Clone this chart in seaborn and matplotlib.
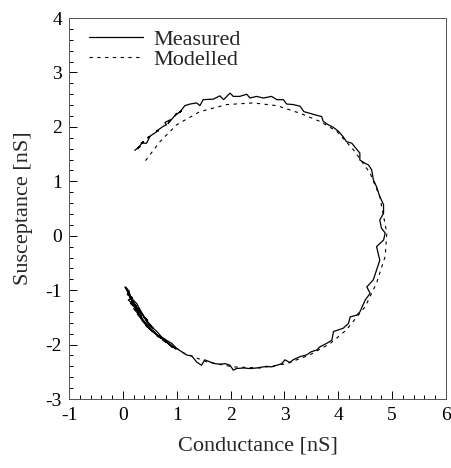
import numpy as np
import pandas as pd
import seaborn as sns
import matplotlib.pyplot as plt
from matplotlib.ticker import MultipleLocator

# measured admittance trace (conductance, susceptance in nS)
meas_g = [0.22, 0.32, 0.27, 0.38, 0.34, 0.44, 0.50, 0.46, 0.58, 0.66, 0.62, 0.75, 0.81, 0.78,
          0.88, 0.84, 0.94, 1.00, 0.96, 1.09, 1.05, 1.15, 1.25, 1.37, 1.43, 1.49, 1.68,
          1.80, 1.87, 1.99, 2.05, 2.17, 2.30, 2.36, 2.48, 2.61, 2.76, 2.86, 2.98, 3.04,
          3.16, 3.29, 3.36, 3.47, 3.57, 3.69, 3.72, 3.81, 3.91, 4.00, 4.09, 4.15, 4.25,
          4.34, 4.40, 4.40, 4.50, 4.56, 4.62, 4.65, 4.71, 4.77, 4.84, 4.84, 4.77, 4.80,
          4.87, 4.84, 4.71, 4.77, 4.71, 4.65, 4.53, 4.59, 4.50, 4.40, 4.34, 4.22, 4.19,
          4.09, 4.00, 3.91, 3.88, 3.78, 3.66, 3.60, 3.50, 3.41, 3.29, 3.16, 3.10, 3.01,
          2.95, 2.86, 2.76, 2.67, 2.61, 2.48, 2.36, 2.24, 2.11, 2.05, 1.99, 1.90, 1.80,
          1.71, 1.62, 1.52, 1.46, 1.37, 1.28, 1.18, 1.09, 1.00, 0.91, 0.81, 0.72, 0.63,
          0.53, 0.44, 0.38, 0.32, 0.26, 0.19, 0.13, 0.07, 0.04, 0.12, 0.08, 0.18, 0.10,
          0.22, 0.14, 0.28, 0.20, 0.34, 0.27, 0.42, 0.36, 0.50, 0.45, 0.60, 0.55, 0.70,
          0.66, 0.80, 0.74, 0.92, 0.85, 0.98, 0.70, 0.60, 0.48, 0.40, 0.30, 0.24, 0.16,
          0.10, 0.06, 0.14, 0.08, 0.20, 0.12, 0.25, 0.17, 0.30, 0.22, 0.36, 0.28, 0.46,
          0.38, 0.56, 0.48]
meas_b = [1.57, 1.64, 1.60, 1.73, 1.70, 1.70, 1.82, 1.80, 1.88, 1.93, 1.92, 2.01, 2.04, 2.08,
          2.13, 2.06, 2.18, 2.25, 2.20, 2.30, 2.26, 2.39, 2.42, 2.44, 2.39, 2.50, 2.51,
          2.57, 2.50, 2.62, 2.56, 2.56, 2.60, 2.53, 2.56, 2.53, 2.56, 2.50, 2.50, 2.42,
          2.41, 2.38, 2.28, 2.25, 2.22, 2.19, 2.10, 2.04, 1.99, 1.92, 1.82, 1.73, 1.70,
          1.59, 1.52, 1.39, 1.33, 1.30, 1.21, 1.03, 0.90, 0.72, 0.57, 0.41, 0.29, 0.14,
          0.05, -0.08, -0.20, -0.45, -0.63, -0.81, -0.94, -1.06, -1.18, -1.40, -1.46, -1.49,
          -1.61, -1.70, -1.73, -1.76, -1.92, -1.98, -2.04, -2.10, -2.13, -2.19, -2.22,
          -2.28, -2.33, -2.28, -2.35, -2.38, -2.41, -2.40, -2.41, -2.43, -2.44, -2.43,
          -2.44, -2.47, -2.38, -2.35, -2.36, -2.35, -2.32, -2.28, -2.38, -2.32, -2.21,
          -2.19, -2.13, -2.07, -1.98, -1.92, -1.86, -1.76, -1.67, -1.58, -1.46, -1.36,
          -1.25, -1.18, -1.09, -1.00, -0.94, -1.02, -1.08, -1.14, -1.18, -1.28, -1.24,
          -1.38, -1.34, -1.50, -1.44, -1.62, -1.56, -1.72, -1.66, -1.80, -1.74, -1.88,
          -1.84, -1.96, -1.90, -2.05, -1.98, -2.08, -1.86, -1.80, -1.66, -1.58, -1.42,
          -1.34, -1.16, -1.04, -0.96, -1.10, -1.00, -1.22, -1.12, -1.30, -1.20, -1.38,
          -1.26, -1.46, -1.36, -1.56, -1.48, -1.70, -1.62]

# modelled arc
model_g = [0.42, 0.69, 1.00, 1.43, 1.93, 2.42, 2.86, 3.29, 3.66, 3.97, 4.28, 4.59, 4.77,
           4.90, 4.87, 4.71, 4.50, 4.15, 3.85, 3.47, 3.04, 2.55, 2.05, 1.56, 1.12, 0.69,
           0.45, 0.28]
model_b = [1.38, 1.73, 2.04, 2.28, 2.41, 2.44, 2.39, 2.25, 2.10, 1.92, 1.58, 1.15, 0.72,
           0.05, -0.38, -0.87, -1.30, -1.73, -1.98, -2.19, -2.35, -2.43, -2.41, -2.32,
           -2.15, -1.89, -1.68, -1.45]

sns.set_style("ticks")
plt.rcParams["font.family"] = ["Liberation Serif", "DejaVu Serif"]
plt.rcParams["axes.unicode_minus"] = False

fig = plt.figure(figsize=(4.51, 4.68), dpi=100)
ax = fig.add_axes([0.153, 0.1474, 0.836, 0.8141])

sns.lineplot(x=meas_g, y=meas_b, sort=False, estimator=None, color="black",
             linewidth=0.9, label="Measured", ax=ax)
sns.lineplot(x=model_g, y=model_b, sort=False, estimator=None, color="black",
             linewidth=0.8, label="Modelled", ax=ax)
ax.lines[1].set_dashes((3, 4))

ax.set_xlim(-1, 6)
ax.set_ylim(-3, 4)
ax.xaxis.set_major_locator(MultipleLocator(1))
ax.xaxis.set_minor_locator(MultipleLocator(0.2))
ax.yaxis.set_major_locator(MultipleLocator(1))
ax.yaxis.set_minor_locator(MultipleLocator(0.2))
ax.tick_params(which="both", direction="in", width=0.7, labelsize=14, colors="black")
ax.tick_params(which="major", length=6)
ax.tick_params(which="minor", length=3)
ax.tick_params(axis="x", pad=6)
ax.tick_params(axis="y", pad=5)
for s in ax.spines.values():
    s.set_linewidth(0.7)
    s.set_color("#555555")

ax.set_xlabel("Conductance [nS]", fontsize=16, labelpad=9)
ax.set_ylabel("Susceptance [nS]", fontsize=16, labelpad=9)

leg = ax.legend(loc="upper left", bbox_to_anchor=(0.0, 1.022), frameon=False, fontsize=16,
                handlelength=2.45, handletextpad=0.45, labelspacing=-0.05, borderaxespad=0.5)

fig.savefig("out.png", dpi=100)
